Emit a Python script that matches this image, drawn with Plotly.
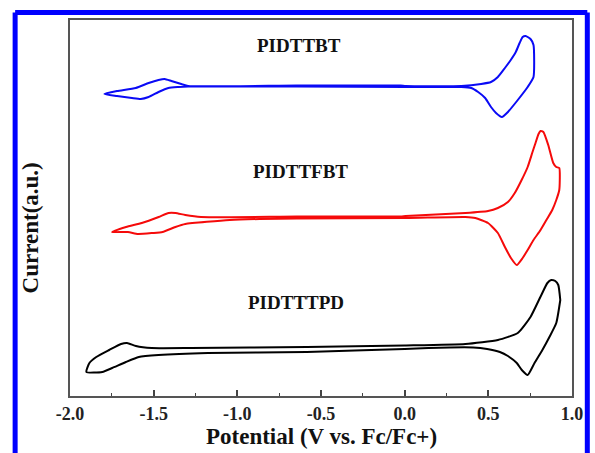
import plotly.graph_objects as go

# Potential (V vs Fc/Fc+) and current (a.u., offset per polymer)
bt_v = [-1.795, -1.719, -1.607, -1.530, -1.471, -1.435, -1.394, -1.335, -1.294, -0.644, -0.024, 0.006,
        0.339, 0.457, 0.516, 0.557, 0.599, 0.634, 0.664, 0.687, 0.705, 0.723, 0.752, 0.770,
        0.770, 0.735, 0.676, 0.617, 0.581, 0.546, 0.516, 0.481, 0.439, 0.398, 0.339, 0.006,
        -0.644, -1.294, -1.353, -1.412, -1.471, -1.530, -1.577, -1.630, -1.719, -1.795]
bt_i = [30.2, 30.5, 30.8, 31.3, 31.6, 31.7, 31.5, 31.2, 31.0, 31.05, 31.05, 31.0,
        31.0, 31.2, 31.4, 31.9, 32.8, 33.6, 34.4, 35.3, 35.9, 36.0, 35.7, 35.1,
        31.9, 30.9, 29.6, 28.4, 27.9, 28.3, 28.9, 29.8, 30.4, 30.8, 30.9, 30.9,
        30.95, 30.95, 30.9, 30.8, 30.4, 29.9, 29.7, 29.8, 30.0, 30.2]

fbt_v = [-1.748, -1.665, -1.571, -1.470, -1.411, -1.370, -1.311, -1.217, -0.644, -0.024, 0.006,
         0.363, 0.498, 0.557, 0.617, 0.658, 0.699, 0.735, 0.764, 0.782, 0.800, 0.812, 0.829,
         0.858, 0.888, 0.906, 0.924, 0.924, 0.906, 0.882, 0.847, 0.812, 0.770, 0.735, 0.705,
         0.670, 0.635, 0.599, 0.557, 0.498, 0.422, 0.363, 0.006, -0.644, -0.868, -1.045,
         -1.311, -1.370, -1.447, -1.506, -1.594, -1.654, -1.748]
fbt_i = [16.4, 16.9, 17.3, 17.9, 18.3, 18.3, 18.1, 17.9, 17.95, 17.95, 18.0,
         18.3, 18.5, 18.8, 19.4, 20.3, 21.6, 22.9, 24.4, 25.3, 26.2, 26.5, 26.4,
         25.1, 23.3, 22.9, 22.8, 20.6, 19.6, 18.6, 17.6, 16.6, 15.6, 14.6, 13.8,
         13.1, 13.8, 14.9, 16.3, 17.3, 17.8, 17.9, 17.8, 17.75, 17.7, 17.6,
         17.2, 16.9, 16.4, 16.3, 16.2, 16.4, 16.4]

tpd_v = [-1.902, -1.884, -1.843, -1.766, -1.695, -1.659, -1.606, -1.512, -1.276, -0.585, 0.0,
         0.363, 0.557, 0.676, 0.752, 0.811, 0.853, 0.876, 0.900, 0.918, 0.930, 0.930, 0.906,
         0.865, 0.823, 0.776, 0.735, 0.700, 0.670, 0.617, 0.569, 0.493, 0.410, 0.142, 0.0,
         -0.585, -1.176, -1.471, -1.589, -1.666, -1.748, -1.807, -1.902]
tpd_i = [2.4, 3.3, 3.9, 4.6, 5.2, 5.3, 5.0, 4.8, 4.8, 4.9, 5.05,
         5.2, 5.6, 6.3, 7.9, 9.9, 11.3, 11.6, 11.5, 11.1, 9.6, 9.6, 7.3,
         5.9, 4.6, 3.3, 2.1, 2.6, 3.3, 4.0, 4.4, 4.7, 4.85, 4.8, 4.7,
         4.4, 4.3, 4.1, 3.9, 3.4, 2.8, 2.4, 2.4]

series = [("PIDTTBT", bt_v, bt_i, "#0A0AF5"),
          ("PIDTTFBT", fbt_v, fbt_i, "#F50A0A"),
          ("PIDTTTPD", tpd_v, tpd_i, "#000000")]
labels = ["PIDTTBT", "PIDTTFBT", "PIDTTTPD"]
label_v = [-0.63, -0.62, -0.65]
label_i = [35.1, 22.5, 9.4]

x_ticks = [-2.0, -1.5, -1.0, -0.5, 0.0, 0.5, 1.0]
x_ticktext = ["-2.0", "-1.5", "-1.0", "-0.5", "0.0", "0.5", "1.0"]

FONT = "Liberation Serif, Times New Roman, serif"

fig = go.Figure()
for name, v, i, c in series:
    fig.add_trace(go.Scatter(x=v, y=i, mode="lines", name=name,
                             line=dict(color=c, width=2, shape="spline", smoothing=0.5),
                             showlegend=False))

for t, lv, li in zip(labels, label_v, label_i):
    fig.add_annotation(x=lv, y=li, text=t, showarrow=False, xanchor="center", yanchor="middle",
                       font=dict(family=FONT, size=19, color="#111111", weight="bold"))

fig.update_layout(
    width=595, height=453,
    margin=dict(l=70, r=17, t=20, b=57),
    paper_bgcolor="white", plot_bgcolor="white",
    xaxis=dict(range=[-2.0, 1.0], tickvals=x_ticks, ticktext=x_ticktext,
               ticks="inside", ticklen=6, tickwidth=1.5, tickcolor="#444444",
               minor=dict(ticks="inside", ticklen=3, tickwidth=1.2, tickcolor="#444444", dtick=0.25),
               showline=True, linecolor="#555555", linewidth=2, mirror=True,
               showgrid=False, zeroline=False,
               tickfont=dict(family=FONT, size=18, color="#222222", weight="bold")),
    yaxis=dict(range=[0, 37.6], showticklabels=False, ticks="",
               showline=True, linecolor="#555555", linewidth=2, mirror=True,
               showgrid=False, zeroline=False),
)

fig.add_annotation(xref="paper", yref="paper", x=0.5, y=-0.108, text="Potential (V vs. Fc/Fc+)",
                   showarrow=False, xanchor="center", yanchor="middle",
                   font=dict(family=FONT, size=23, color="#111111", weight="bold"))
fig.add_annotation(xref="paper", yref="paper", x=-0.0787, y=0.447, text="Current(a.u.)",
                   showarrow=False, textangle=-90, xanchor="center", yanchor="middle",
                   font=dict(family=FONT, size=23, color="#111111", weight="bold"))

# outer blue frame
for x0, y0, x1, y1 in [(-0.1093, 1.0199, 1.0305, 1.0199), (-0.1093, 1.0199, -0.1093, -0.2),
                       (1.0305, 1.0199, 1.0305, -0.2)]:
    fig.add_shape(type="line", xref="paper", yref="paper", x0=x0, y0=y0, x1=x1, y1=y1,
                  line=dict(color="#0000FF", width=5), layer="above")

fig.write_html("out.html")
